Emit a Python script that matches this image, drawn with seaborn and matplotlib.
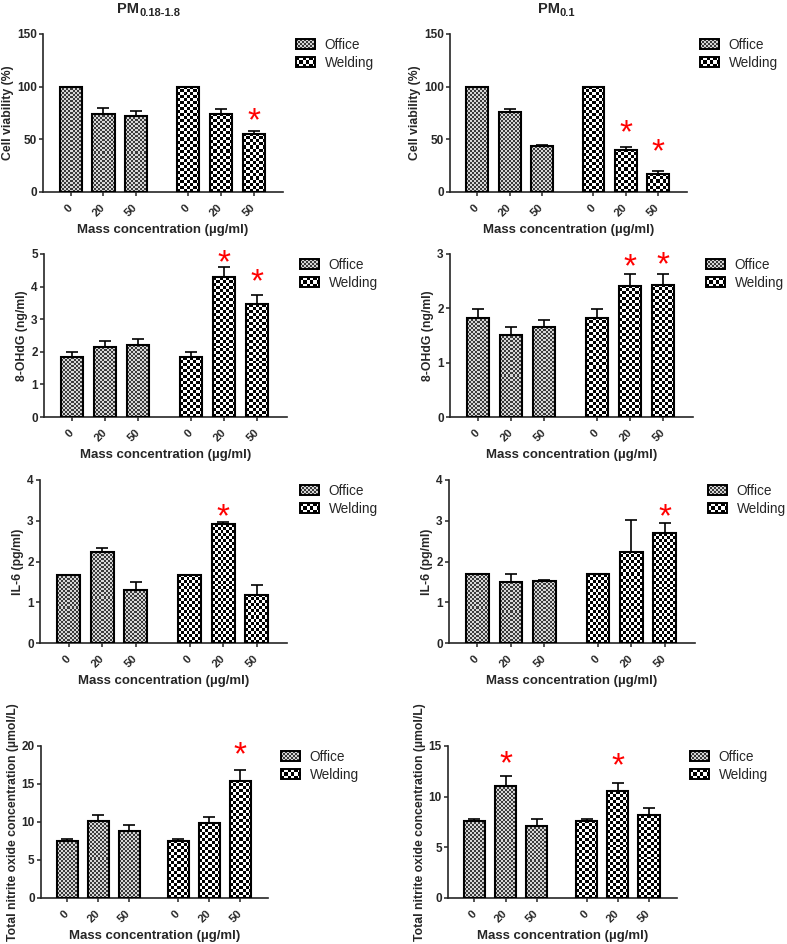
import numpy as np
import pandas as pd
import matplotlib
matplotlib.use("Agg")
import matplotlib.pyplot as plt
import seaborn as sns
from matplotlib.colors import ListedColormap
from matplotlib.patches import Rectangle
from matplotlib.image import BboxImage
from matplotlib.transforms import Bbox, TransformedBbox
from matplotlib.legend_handler import HandlerBase

sns.set_style("ticks")
plt.rcParams["font.family"] = ["Liberation Sans", "DejaVu Sans"]

# categories
doses = ["0", "20", "50"]
groups = ["Office", "Welding"]

# values: Office 0/20/50 then Welding 0/20/50
viab_coarse = [100, 74.5, 72.3, 100, 74.5, 55.5]
viab_coarse_err = [0, 4.8, 4.7, 0, 4.0, 2.2]
viab_coarse_star = [None, None, None, None, None, 76]

viab_ultra = [100, 75.5, 43.4, 100, 40.3, 17.4]
viab_ultra_err = [0, 3.0, 1.6, 0, 2.5, 2.3]
viab_ultra_star = [None, None, None, None, 64, 46.5]

ohdg_coarse = [1.84, 2.14, 2.20, 1.84, 4.29, 3.46]
ohdg_coarse_err = [0.14, 0.20, 0.20, 0.14, 0.32, 0.28]
ohdg_coarse_star = [None, None, None, None, 5.0, 4.4]

ohdg_ultra = [1.83, 1.51, 1.65, 1.83, 2.42, 2.43]
ohdg_ultra_err = [0.16, 0.14, 0.13, 0.16, 0.21, 0.21]
ohdg_ultra_star = [None, None, None, None, 2.92, 2.96]

il6_coarse = [1.68, 2.23, 1.31, 1.68, 2.92, 1.19]
il6_coarse_err = [0, 0.11, 0.18, 0, 0.05, 0.24]
il6_coarse_star = [None, None, None, None, 3.3, None]

il6_ultra = [1.69, 1.49, 1.52, 1.69, 2.24, 2.69]
il6_ultra_err = [0, 0.21, 0.02, 0, 0.79, 0.25]
il6_ultra_star = [None, None, None, None, None, 3.3]

no_coarse = [7.56, 10.07, 8.84, 7.56, 9.85, 15.43]
no_coarse_err = [0.15, 0.83, 0.75, 0.15, 0.83, 1.37]
no_coarse_star = [None, None, None, None, None, 20.0]

no_ultra = [7.62, 11.09, 7.12, 7.62, 10.53, 8.15]
no_ultra_err = [0.13, 0.93, 0.63, 0.13, 0.86, 0.70]
no_ultra_star = [None, 14.1, None, None, 13.9, None]

DPI = 100
W, H = 787, 944
positions = [0, 1, 2, 3.6, 4.6, 5.6]
office_colors = ["#3a3a3a", "#d6d6d6"]
welding_colors = ["#000000", "#ffffff"]

fig = plt.figure(figsize=(W / DPI, H / DPI), dpi=DPI)


def px_rect(x0, x1, ytop, ybot):
    return [x0 / W, 1 - ybot / H, (x1 - x0) / W, (ybot - ytop) / H]


def checker(nx, ny):
    return np.add.outer(np.arange(ny), np.arange(nx)) % 2


class CheckerHandler(HandlerBase):
    def __init__(self, cell, colors):
        super().__init__()
        self.cell = cell
        self.colors = colors

    def create_artists(self, legend, orig_handle, xdescent, ydescent,
                       width, height, fontsize, trans):
        bb = TransformedBbox(Bbox.from_bounds(-xdescent, -ydescent, width, height), trans)
        nx = max(1, int(round(width * DPI / 72 / self.cell)))
        ny = max(1, int(round(height * DPI / 72 / self.cell)))
        img = BboxImage(bb, cmap=ListedColormap(self.colors), interpolation="nearest", origin="lower")
        img.set_data(checker(nx, ny))
        img.set_clim(0, 1)
        rect = Rectangle((-xdescent, -ydescent), width, height, facecolor="none",
                         edgecolor="black", linewidth=1.4, transform=trans)
        return [img, rect]


def fill_bar(ax, patch, cell, colors):
    x0, y0 = patch.get_x(), patch.get_y()
    w, h = patch.get_width(), patch.get_height()
    p0 = ax.transData.transform((x0, y0))
    p1 = ax.transData.transform((x0 + w, y0 + h))
    nx = max(1, int(round(abs(p1[0] - p0[0]) / cell)))
    ny = max(1, int(round(abs(p1[1] - p0[1]) / cell)))
    ax.imshow(checker(nx, ny), cmap=ListedColormap(colors), vmin=0, vmax=1,
              extent=(x0, x0 + w, y0, y0 + h), aspect="auto",
              interpolation="nearest", origin="lower", zorder=2)
    patch.set_facecolor("none")


def panel(rect, means, errs, stars, ylabel, yticks, ylabel_size=8.8):
    ax = fig.add_axes(px_rect(*rect))
    df = pd.DataFrame({"pos": positions, "value": means,
                       "group": np.repeat(groups, 3)})
    sns.barplot(data=df, x="pos", y="value", hue="group", hue_order=groups,
                native_scale=True, dodge=False, width=0.68, errorbar=None,
                palette={"Office": "white", "Welding": "white"},
                edgecolor="black", linewidth=1.5, legend=False, ax=ax, zorder=3)
    ax.set_xlim(-0.85, 6.5)
    ax.set_ylim(0, yticks[-1])
    ax.set_autoscale_on(False)

    for patch in list(ax.patches):
        cx = patch.get_x() + patch.get_width() / 2
        idx = int(np.argmin([abs(cx - p) for p in positions]))
        if idx < 3:
            fill_bar(ax, patch, 2, office_colors)
        else:
            fill_bar(ax, patch, 3, welding_colors)

    ax.errorbar(positions, means, yerr=[np.zeros(len(errs)), errs], fmt="none",
                ecolor="black", elinewidth=1.2, capsize=4, capthick=1.2, zorder=4)

    for p, s in zip(positions, stars):
        if s is not None:
            ax.annotate("*", xy=(p, s), xytext=(0, -13), textcoords="offset points",
                        ha="center", va="baseline", color="red", fontsize=24)

    ax.set_xticks(positions)
    ax.set_xticklabels(doses * 2, rotation=45, ha="right", va="center",
                       rotation_mode="anchor", fontweight="bold", fontsize=8.2)
    ax.set_yticks(yticks)
    ax.set_yticklabels([str(t) for t in yticks], fontweight="bold", fontsize=8.5)
    ax.tick_params(axis="both", width=1.1, length=3)
    ax.tick_params(axis="x", pad=7)
    ax.tick_params(axis="y", pad=1.5)
    ax.set_xlabel("Mass concentration (µg/ml)", fontweight="bold", fontsize=9.5, labelpad=4)
    ax.set_ylabel(ylabel, fontweight="bold", fontsize=ylabel_size, labelpad=2)
    sns.despine(ax=ax)
    for s in ["left", "bottom"]:
        ax.spines[s].set_linewidth(1.2)

    handles = [Rectangle((0, 0), 1, 1) for _ in groups]
    hmap = {handles[0]: CheckerHandler(2, office_colors),
            handles[1]: CheckerHandler(3, welding_colors)}
    x0, x1, ytop, ybot = rect
    ax.legend(handles=handles, labels=groups, handler_map=hmap, loc="upper left",
              bbox_to_anchor=((x1 + 13) / W, 1 - (ytop + 4) / H),
              bbox_transform=fig.transFigure, frameon=False, fontsize=9.8,
              handlelength=1.4, handleheight=0.75, handletextpad=0.7,
              labelspacing=0.28, borderpad=0, borderaxespad=0)
    return ax


panel((43, 283, 34, 192), viab_coarse, viab_coarse_err, viab_coarse_star,
      "Cell viability (%)", [0, 50, 100, 150])
panel((450, 687, 34, 192), viab_ultra, viab_ultra_err, viab_ultra_star,
      "Cell viability (%)", [0, 50, 100, 150])
panel((44, 287, 254, 417), ohdg_coarse, ohdg_coarse_err, ohdg_coarse_star,
      "8-OHdG (ng/ml)", [0, 1, 2, 3, 4, 5])
panel((450, 693, 254, 417), ohdg_ultra, ohdg_ultra_err, ohdg_ultra_star,
      "8-OHdG (ng/ml)", [0, 1, 2, 3])
panel((40, 287, 480, 643), il6_coarse, il6_coarse_err, il6_coarse_star,
      "IL-6 (pg/ml)", [0, 1, 2, 3, 4])
panel((449, 695, 480, 643), il6_ultra, il6_ultra_err, il6_ultra_star,
      "IL-6 (pg/ml)", [0, 1, 2, 3, 4])
panel((41, 268, 746, 898), no_coarse, no_coarse_err, no_coarse_star,
      "Total nitrite oxide concentration (µmol/L)", [0, 5, 10, 15, 20])
panel((448, 677, 746, 898), no_ultra, no_ultra_err, no_ultra_star,
      "Total nitrite oxide concentration (µmol/L)", [0, 5, 10, 15])

# column titles with subscripts
for x, sub in [(117, "0.18-1.8"), (538, "0.1")]:
    t = fig.text(x / W, 1 - 13 / H, "PM", ha="left", va="baseline",
                 fontweight="bold", fontsize=10.5)
    fig.get_axes()[0].annotate(sub, xy=(1, 0), xycoords=t, ha="left", va="baseline",
                               fontweight="bold", fontsize=8, annotation_clip=False)

fig.savefig("out.png", dpi=DPI)
